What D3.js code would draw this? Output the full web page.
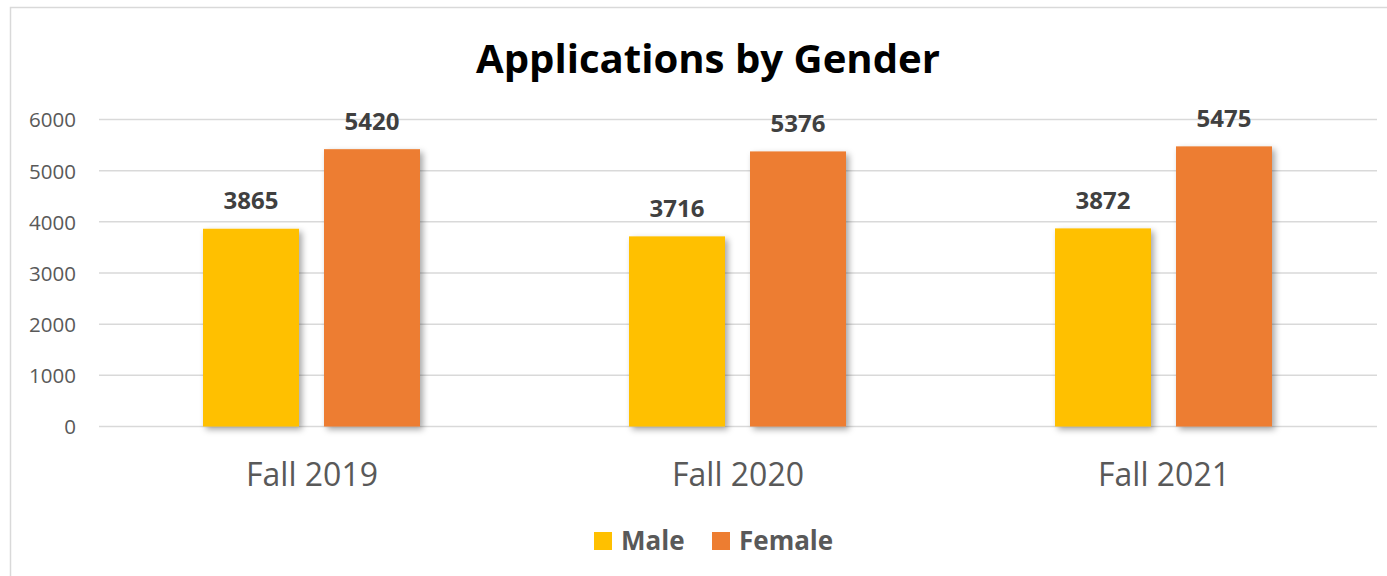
<!DOCTYPE html>
<html>
<head>
<meta charset="utf-8">
<script src="https://cdn.jsdelivr.net/npm/d3@7"></script>
<style>
  html, body { margin: 0; padding: 0; background: #fff; }
  svg { display: block; }
</style>
</head>
<body>
<script>
const categories = ["Fall 2019", "Fall 2020", "Fall 2021"];
const seriesNames = ["Male", "Female"];
const maleValues = [3865, 3716, 3872];
const femaleValues = [5420, 5376, 5475];
const yTicks = [0, 1000, 2000, 3000, 4000, 5000, 6000];
const colors = ["#FFC000", "#ED7D31"];
const titleText = "Applications by Gender";

const W = 1387, H = 576;
const svg = d3.select("body").append("svg").attr("width", W).attr("height", H);

const defs = svg.append("defs");
const f = defs.append("filter").attr("id", "shadow")
  .attr("x", "-20%").attr("y", "-10%").attr("width", "150%").attr("height", "130%");
f.append("feDropShadow").attr("dx", 3).attr("dy", 3).attr("stdDeviation", 3)
  .attr("flood-color", "#000").attr("flood-opacity", 0.35);

// outer border
svg.append("rect").attr("x", 10.5).attr("y", 7.5).attr("width", W + 20).attr("height", H + 20)
  .attr("fill", "#fff").attr("stroke", "#d9d9d9").attr("stroke-width", 1.5);

const x0 = d3.scaleBand().domain(categories).range([99, 1377]).paddingInner(0).paddingOuter(0);
const y = d3.scaleLinear().domain([0, 6000]).range([426.5, 119.5]);

// gridlines
svg.append("g").selectAll("line").data(yTicks).join("line")
  .attr("x1", 99).attr("x2", 1377)
  .attr("y1", d => y(d)).attr("y2", d => y(d))
  .attr("stroke", "#d9d9d9").attr("stroke-width", 1.5);

// y axis labels
const yAxis = d3.axisLeft(y).tickValues(yTicks).tickSize(0).tickPadding(0).tickFormat(d3.format("d"));
const ya = svg.append("g").attr("transform", "translate(76,0)").call(yAxis);
ya.select(".domain").remove();
ya.selectAll("text").attr("font-family", "Open Sans").attr("font-size", 20.5)
  .attr("fill", "#595959").attr("dy", "0.36em");

// x axis labels
const xAxis = d3.axisBottom(x0).tickSize(0).tickPadding(0);
const xa = svg.append("g").attr("transform", "translate(0,486)").call(xAxis);
xa.select(".domain").remove();
xa.selectAll("text").attr("font-family", "Open Sans").attr("font-size", 32)
  .attr("fill", "#595959").attr("dy", 0).attr("y", 0);

// bars
const data = categories.map((c, i) => ({ cat: c, vals: [maleValues[i], femaleValues[i]] }));
const barW = 96, gap = 25;
const offsets = [-(gap / 2 + barW), gap / 2];

const groups = svg.append("g").selectAll("g").data(data).join("g")
  .attr("transform", d => `translate(${x0(d.cat) + x0.bandwidth() / 2 - 0.5},0)`);

groups.selectAll("rect").data(d => d.vals.map((v, j) => ({ v, j }))).join("rect")
  .attr("x", d => offsets[d.j])
  .attr("width", barW)
  .attr("y", d => y(d.v))
  .attr("height", d => y(0) - y(d.v))
  .attr("fill", d => colors[d.j])
  .attr("filter", "url(#shadow)");

groups.selectAll("text").data(d => d.vals.map((v, j) => ({ v, j }))).join("text")
  .attr("x", d => offsets[d.j] + barW / 2)
  .attr("y", d => y(d.v) - 19.5)
  .attr("text-anchor", "middle")
  .attr("font-family", "Open Sans").attr("font-weight", "bold").attr("font-size", 24)
  .attr("fill", "#404040")
  .text(d => d.v);

// title
svg.append("text").attr("x", 708).attr("y", 73).attr("text-anchor", "middle")
  .attr("font-family", "Open Sans").attr("font-weight", "bold").attr("font-size", 40)
  .attr("fill", "#000")
  .attr("textLength", 464).attr("lengthAdjust", "spacingAndGlyphs")
  .text(titleText);

// legend
const legendX = [594, 712];
const lg = svg.append("g").selectAll("g").data(seriesNames).join("g")
  .attr("transform", (d, i) => `translate(${legendX[i]},0)`);
lg.append("rect").attr("x", 0).attr("y", 532).attr("width", 18).attr("height", 18)
  .attr("fill", (d, i) => colors[i]);
lg.append("text").attr("x", 27).attr("y", 550)
  .attr("font-family", "Open Sans").attr("font-weight", "bold").attr("font-size", 26)
  .attr("fill", "#595959").text(d => d);
</script>
</body>
</html>
